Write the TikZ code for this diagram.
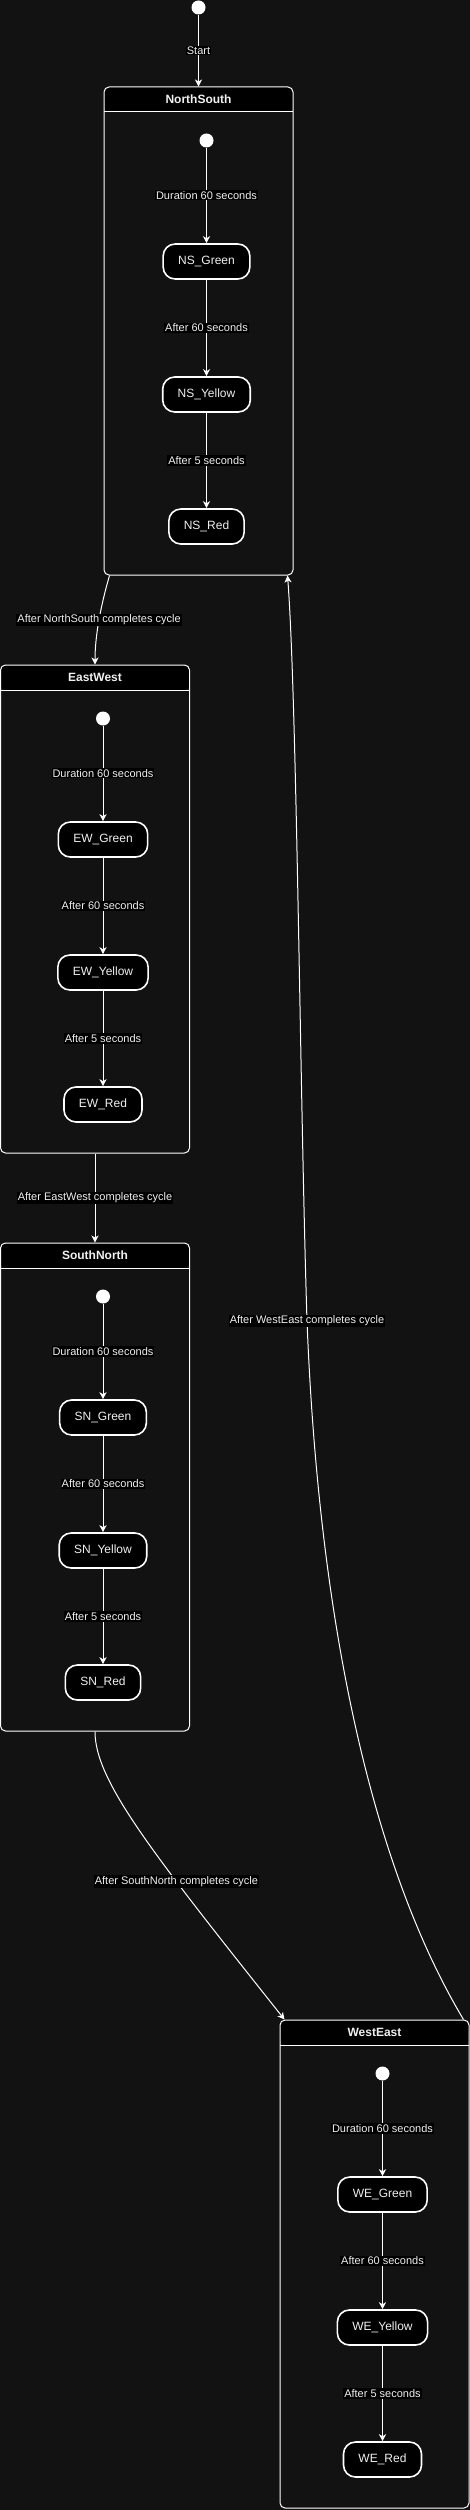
\documentclass[tikz,border=0pt]{standalone}
\usepackage{fontspec}
\setmainfont{Liberation Sans}
\usetikzlibrary{arrows.meta, calc}
\definecolor{bgcol}{RGB}{18,18,18}
\definecolor{txtcol}{RGB}{240,240,240}
\tikzset{
    my-region/.style={
        draw=white, line width=1pt, rounded corners=5pt, inner sep=0pt,
        minimum width=189pt, minimum height=488pt,
        path picture={
            \fill[black] (path picture bounding box.north west) rectangle ([yshift=-25pt]path picture bounding box.north east);
            \draw[white, line width=1pt] ([yshift=-25pt]path picture bounding box.north west) -- ([yshift=-25pt]path picture bounding box.north east);
        }
    },
    my-title/.style={
        text=txtcol, font=\bfseries\fontsize{12}{14}\selectfont, inner sep=0pt
    },
    my-state/.style={
        draw=white, line width=1.6pt, fill=black, rounded corners=12pt,
        minimum height=35pt, inner xsep=15pt, text=txtcol, font=\fontsize{12}{14}\selectfont
    },
    my-initial/.style={
        fill=white, shape=circle, minimum size=14pt, inner sep=0pt
    },
    my-label/.style={
        fill=black, text=txtcol, font=\fontsize{11}{13}\selectfont, inner sep=1pt
    },
    my-arrow/.style={
        draw=white, line width=1pt, -{Stealth[length=7pt, width=7pt, inset=2pt]}
    },
}

\begin{document}
\begin{tikzpicture}[x=1pt, y=-1pt]

        % BACKGROUND
        \path[use as bounding box, fill=bgcol] (0, 0) rectangle (470, 2510);

        % START
        \node[my-initial] (START) at (198.5, 7.5) {};

        % NORTHSOUTH REGION AND STATES
        \node[my-region]  (NS)       at (198.5, 331)                {};
        \node[my-title]   (NSTITLE)  at ($(NS.north) + (0, 12.5)$)  {NorthSouth};
        \node[my-initial] (NSINIT)   at ($(NS.north) + (8, 54)$)    {};
        \node[my-state]   (NSGREEN)  at ($(NS.north) + (8, 175)$)   {NS\_Green};
        \node[my-state]   (NSYELLOW) at ($(NS.north) + (8, 308)$)   {NS\_Yellow};
        \node[my-state]   (NSRED)    at ($(NS.north) + (8, 440)$)   {NS\_Red};
        \draw[my-arrow] (NSINIT)   -- node[my-label] {Duration 60 seconds} (NSGREEN);
        \draw[my-arrow] (NSGREEN)  -- node[my-label] {After 60 seconds}    (NSYELLOW);
        \draw[my-arrow] (NSYELLOW) -- node[my-label] {After 5 seconds}     (NSRED);

        % EASTWEST REGION AND STATES
        \node[my-region]  (EW)       at (95, 909)                   {};
        \node[my-title]   (EWTITLE)  at ($(EW.north) + (0, 12.5)$)  {EastWest};
        \node[my-initial] (EWINIT)   at ($(EW.north) + (8, 54)$)    {};
        \node[my-state]   (EWGREEN)  at ($(EW.north) + (8, 175)$)   {EW\_Green};
        \node[my-state]   (EWYELLOW) at ($(EW.north) + (8, 308)$)   {EW\_Yellow};
        \node[my-state]   (EWRED)    at ($(EW.north) + (8, 440)$)   {EW\_Red};
        \draw[my-arrow] (EWINIT)   -- node[my-label] {Duration 60 seconds} (EWGREEN);
        \draw[my-arrow] (EWGREEN)  -- node[my-label] {After 60 seconds}    (EWYELLOW);
        \draw[my-arrow] (EWYELLOW) -- node[my-label] {After 5 seconds}     (EWRED);

        % SOUTHNORTH REGION AND STATES
        \node[my-region]  (SN)       at (95, 1487)                  {};
        \node[my-title]   (SNTITLE)  at ($(SN.north) + (0, 12.5)$)  {SouthNorth};
        \node[my-initial] (SNINIT)   at ($(SN.north) + (8, 54)$)    {};
        \node[my-state]   (SNGREEN)  at ($(SN.north) + (8, 175)$)   {SN\_Green};
        \node[my-state]   (SNYELLOW) at ($(SN.north) + (8, 308)$)   {SN\_Yellow};
        \node[my-state]   (SNRED)    at ($(SN.north) + (8, 440)$)   {SN\_Red};
        \draw[my-arrow] (SNINIT)   -- node[my-label] {Duration 60 seconds} (SNGREEN);
        \draw[my-arrow] (SNGREEN)  -- node[my-label] {After 60 seconds}    (SNYELLOW);
        \draw[my-arrow] (SNYELLOW) -- node[my-label] {After 5 seconds}     (SNRED);

        % WESTEAST REGION AND STATES
        \node[my-region]  (WE)       at (374.5, 2264)               {};
        \node[my-title]   (WETITLE)  at ($(WE.north) + (0, 12.5)$)  {WestEast};
        \node[my-initial] (WEINIT)   at ($(WE.north) + (8, 54)$)    {};
        \node[my-state]   (WEGREEN)  at ($(WE.north) + (8, 175)$)   {WE\_Green};
        \node[my-state]   (WEYELLOW) at ($(WE.north) + (8, 308)$)   {WE\_Yellow};
        \node[my-state]   (WERED)    at ($(WE.north) + (8, 440)$)   {WE\_Red};
        \draw[my-arrow] (WEINIT)   -- node[my-label] {Duration 60 seconds} (WEGREEN);
        \draw[my-arrow] (WEGREEN)  -- node[my-label] {After 60 seconds}    (WEYELLOW);
        \draw[my-arrow] (WEYELLOW) -- node[my-label] {After 5 seconds}     (WERED);

        % TRANSITIONS BETWEEN REGIONS
        \draw[my-arrow] (START) -- node[my-label] {Start} (NS.north);
        \draw[my-arrow] ($(NS.south west) + (6, 0)$) .. controls (101, 605) and (95, 635) .. (EW.north)
            node[my-label, pos=0.5] {After NorthSouth completes cycle};
        \draw[my-arrow] (EW.south) -- node[my-label] {After EastWest completes cycle} (SN.north);
        \draw[my-arrow] (SN.south) .. controls ($(SN.south) + (0, 49)$) and (150, 1850) .. ($(WE.north west) + (5, 0)$)
            node[my-label, pos=0.67] {After SouthNorth completes cycle};
        \draw[my-arrow] ($(WE.north east) + (-6, 0)$) .. controls (380, 1880) and (320, 1650) .. (307, 1321)
            node[my-label] {After WestEast completes cycle}
            .. controls (300, 1100) and (297, 700) .. ($(NS.south east) + (-6, 0)$);

\end{tikzpicture}
\end{document}
